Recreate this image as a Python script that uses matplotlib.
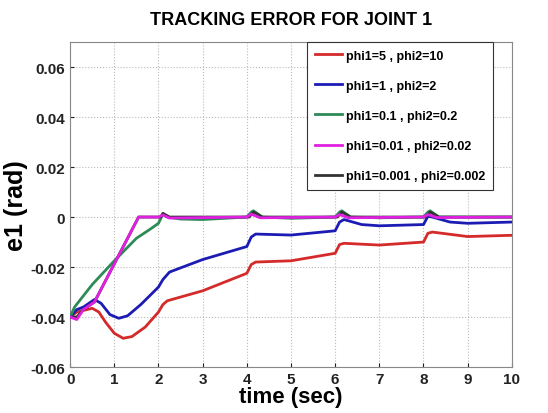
import matplotlib.pyplot as plt

# tracking error e1 for each pair of phi gains
t_red = [0, 0.15, 0.5, 0.65, 0.8, 1.0, 1.2, 1.4, 1.7, 2.0, 2.1, 2.2, 3.0, 4.0, 4.1, 4.2, 5.0, 6.0, 6.1,
         6.2, 7.0, 8.0, 8.1, 8.2, 9.0, 10]
e_red = [-0.040, -0.038, -0.0365, -0.038, -0.042, -0.0465, -0.0485, -0.0478, -0.044, -0.038, -0.035,
         -0.0335, -0.0295, -0.0225, -0.019, -0.018, -0.0175, -0.0145, -0.011, -0.0105, -0.0112,
         -0.0100, -0.0065, -0.006, -0.0078, -0.0073]

t_blue = [0, 0.15, 0.3, 0.55, 0.7, 0.9, 1.1, 1.3, 1.6, 2.0, 2.1, 2.25, 3.0, 4.0, 4.1, 4.2, 5.0, 6.0,
          6.1, 6.2, 6.6, 7.0, 8.0, 8.1, 8.2, 8.6, 9.0, 10]
e_blue = [-0.040, -0.037, -0.036, -0.033, -0.0345, -0.039, -0.0405, -0.0395, -0.035, -0.028, -0.025,
          -0.022, -0.017, -0.0118, -0.008, -0.0068, -0.0072, -0.0055, -0.002, -0.001, -0.003,
          -0.0035, -0.003, 0.0003, 0.0, -0.002, -0.0025, -0.002]

t_green = [0, 0.1, 0.5, 1.0, 1.5, 1.8, 2.0, 2.1, 2.2, 2.5, 3.0, 4.0, 4.1, 4.15, 4.35, 5.0, 6.0, 6.1,
           6.15, 6.35, 7.0, 8.0, 8.1, 8.15, 8.35, 9.0, 10]
e_green = [-0.040, -0.036, -0.027, -0.0175, -0.0085, -0.005, -0.0025, 0.0012, 0.0, -0.0008, -0.001,
           0.0, 0.002, 0.0025, 0.0, -0.0005, 0.0, 0.002, 0.0025, 0.0, -0.0003, 0.0, 0.002, 0.0025,
           0.0, 0.0, 0.0]

t_mag = [0, 0.15, 0.3, 0.55, 1.55, 2.0, 2.1, 2.25, 4.0, 4.1, 4.3, 6.0, 6.1, 6.3, 8.0, 8.1, 8.3, 10]
e_mag = [-0.040, -0.041, -0.037, -0.034, 0.0, 0.0, 0.0008, -0.0004, 0.0, 0.0012, -0.0003, 0.0, 0.001,
         -0.0003, 0.0, 0.001, -0.0002, 0.0]

t_blk = [0, 0.15, 0.3, 0.55, 1.55, 2.05, 2.1, 2.25, 4.05, 4.15, 4.35, 6.05, 6.15, 6.35, 8.05, 8.15, 8.35, 10]
e_blk = [-0.040, -0.040, -0.037, -0.034, 0.0, 0.0, 0.0015, 0.0, 0.0, 0.002, 0.0, 0.0, 0.002, 0.0, 0.0,
         0.002, 0.0, 0.0]

labels = ['phi1=5 , phi2=10', 'phi1=1 , phi2=2', 'phi1=0.1 , phi2=0.2',
          'phi1=0.01 , phi2=0.02', 'phi1=0.001 , phi2=0.002']
colors = ['#d42a2a', '#1c1cb4', '#2e8b57', '#e020e0', '#333333']

plt.rcParams['font.family'] = ['Liberation Sans', 'DejaVu Sans']
plt.rcParams['font.weight'] = 'bold'

fig = plt.figure(figsize=(5.48, 4.14), dpi=100)
ax = fig.add_axes([0.128, 0.111, 0.806, 0.785])

series = [(t_red, e_red), (t_blue, e_blue), (t_green, e_green), (t_mag, e_mag), (t_blk, e_blk)]
zorders = [3, 3, 4, 5, 4]
for (t, e), lab, c, z in zip(series, labels, colors, zorders):
    ax.plot(t, e, color=c, lw=2, label=lab, zorder=z)

ax.set_xlim(0, 10)
ax.set_ylim(-0.06, 0.07)
ax.set_xticks(range(0, 11))
ax.set_yticks([-0.06, -0.04, -0.02, 0, 0.02, 0.04, 0.06])
ax.set_yticklabels(['-0.06', '-0.04', '-0.02', '0', '0.02', '0.04', '0.06'])
ax.tick_params(direction='in', length=3, labelsize=11, colors='#222222')
ax.grid(True, linestyle=':', color='#bbbbbb', lw=0.8)
for s in ax.spines.values():
    s.set_color('#888888')

ax.set_title('TRACKING ERROR FOR JOINT 1', fontsize=13, fontweight='bold', pad=13)
ax.set_xlabel('time (sec)', fontsize=16, fontweight='bold', labelpad=0)
ax.set_ylabel('e1 (rad)', fontsize=18, fontweight='bold', labelpad=2)

leg = ax.legend(loc='upper right', bbox_to_anchor=(0.957, 1.0), fontsize=9, labelspacing=1.45,
                handlelength=2.2, handletextpad=0.3, borderpad=0.6, fancybox=False,
                framealpha=1, edgecolor='#333333', borderaxespad=0)
leg.get_frame().set_linewidth(0.8)

fig.savefig('out.png', dpi=100)
